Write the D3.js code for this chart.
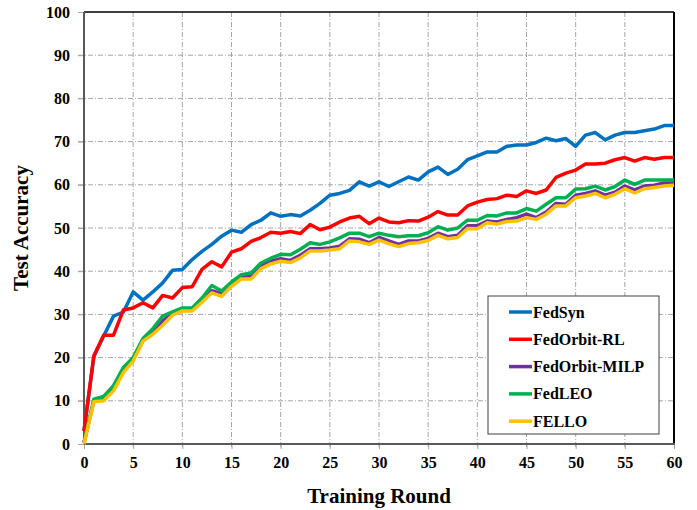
<!DOCTYPE html>
<html>
<head>
<meta charset="utf-8">
<script src="https://cdn.jsdelivr.net/npm/d3@7"></script>
<style>
  html, body { margin: 0; padding: 0; background: #ffffff; }
  svg { display: block; }
  text { font-family: "Liberation Serif", "Times New Roman", serif; font-weight: bold; fill: #000; }
</style>
</head>
<body>
<svg id="chart" width="697" height="510"></svg>
<script>
// Training rounds 0..60
const rounds = d3.range(0, 61);

const seriesNames = ["FedSyn", "FedOrbit-RL", "FedOrbit-MILP", "FedLEO", "FELLO"];
const seriesColors = ["#0070C0", "#FF0000", "#7030A0", "#00B050", "#FFC000"];

// Test accuracy per round
const fedSyn = [3.0, 20.2, 25.0, 29.6, 30.5, 35.2, 33.3, 35.2, 37.3, 40.2,
  40.4, 42.7, 44.6, 46.2, 48.1, 49.5, 49.0, 50.8, 51.8, 53.5,
  52.7, 53.1, 52.8, 54.1, 55.7, 57.6, 58.0, 58.7, 60.7, 59.7,
  60.7, 59.6, 60.7, 61.8, 61.1, 63.0, 64.1, 62.4, 63.6, 65.8,
  66.7, 67.6, 67.6, 68.9, 69.2, 69.2, 69.8, 70.8, 70.2, 70.7,
  68.9, 71.5, 72.1, 70.4, 71.5, 72.1, 72.1, 72.5, 72.9, 73.7, 73.7];

const fedOrbitRL = [3.0, 20.4, 25.2, 25.2, 31.0, 31.5, 32.7, 31.5, 34.4, 33.8,
  36.2, 36.4, 40.4, 42.2, 41.0, 44.4, 45.2, 46.9, 47.8, 49.0,
  48.8, 49.2, 48.7, 50.8, 49.6, 50.2, 51.4, 52.3, 52.7, 51.0,
  52.3, 51.4, 51.2, 51.7, 51.6, 52.5, 53.8, 53.0, 53.0, 55.1,
  56.0, 56.6, 56.8, 57.6, 57.3, 58.6, 58.0, 58.8, 61.7, 62.7,
  63.4, 64.8, 64.8, 65.0, 65.8, 66.3, 65.5, 66.3, 65.9, 66.3, 66.3];

const fedOrbitMILP = [0.3, 10.0, 10.5, 12.9, 17.1, 19.6, 24.1, 25.8, 28.5, 30.2,
  31.1, 31.1, 33.3, 35.5, 34.8, 37.0, 38.7, 38.9, 41.3, 42.3,
  42.9, 42.5, 43.7, 45.2, 45.2, 45.4, 45.8, 47.5, 47.4, 46.6,
  47.8, 47.0, 46.2, 47.0, 47.0, 47.6, 48.8, 48.0, 48.3, 50.5,
  50.5, 51.6, 51.4, 52.0, 52.4, 53.2, 52.4, 53.7, 55.7, 55.5,
  57.6, 58.0, 58.6, 57.6, 58.3, 59.7, 58.8, 59.7, 59.9, 60.4, 60.4];

const fedLEO = [0.3, 10.4, 11.0, 13.5, 17.7, 20.0, 24.4, 26.7, 29.6, 30.6,
  31.5, 31.5, 33.8, 36.7, 35.4, 37.5, 39.2, 39.6, 41.9, 43.0,
  43.9, 43.8, 45.1, 46.6, 46.2, 46.8, 47.7, 48.8, 48.8, 48.0,
  48.8, 48.3, 48.0, 48.2, 48.2, 48.9, 50.3, 49.5, 50.0, 51.8,
  51.8, 52.9, 52.8, 53.5, 53.5, 54.5, 53.9, 55.5, 57.0, 57.0,
  59.0, 59.1, 59.7, 58.8, 59.6, 61.1, 60.1, 61.1, 61.1, 61.1, 61.1];

const fello = [0.0, 9.8, 10.0, 12.3, 16.5, 19.2, 23.8, 25.4, 27.5, 29.8,
  30.8, 30.8, 32.8, 35.0, 34.2, 36.5, 38.2, 38.2, 40.6, 41.7,
  42.3, 42.0, 43.1, 44.7, 44.7, 44.9, 45.2, 47.0, 46.8, 46.2,
  47.2, 46.4, 45.7, 46.4, 46.6, 47.1, 48.3, 47.5, 47.8, 49.9,
  49.8, 51.2, 50.9, 51.5, 51.6, 52.4, 52.0, 53.2, 55.1, 55.1,
  57.0, 57.4, 58.0, 57.0, 57.8, 59.1, 58.1, 59.1, 59.4, 59.7, 59.9];

const seriesValues = [fedSyn, fedOrbitRL, fedOrbitMILP, fedLEO, fello];

const xTicks = d3.range(0, 61, 5);
const yTicks = d3.range(0, 101, 10);

const svg = d3.select("#chart");
const margin = { left: 84, right: 23, top: 12, bottom: 66 };
const W = 697, H = 510;
const plotW = W - margin.left - margin.right;
const plotH = H - margin.top - margin.bottom;

const x = d3.scaleLinear().domain([0, 60]).range([margin.left, margin.left + plotW]);
const y = d3.scaleLinear().domain([0, 100]).range([margin.top + plotH, margin.top]);

// Gridlines (dash-dot)
const grid = svg.append("g");
grid.selectAll("line.h").data(yTicks.filter(v => v > 0 && v < 100)).join("line")
  .attr("x1", x(0) - 6).attr("x2", x(60))
  .attr("y1", d => y(d)).attr("y2", d => y(d))
  .attr("stroke", "#a6a6a6").attr("stroke-width", 1)
  .attr("stroke-dasharray", "5,2,1,2");
grid.selectAll("line.v").data(xTicks.filter(v => v > 0 && v < 60)).join("line")
  .attr("x1", d => x(d)).attr("x2", d => x(d))
  .attr("y1", y(100)).attr("y2", y(0) + 5)
  .attr("stroke", "#a6a6a6").attr("stroke-width", 1)
  .attr("stroke-dasharray", "5,2,1,2");

// Axes
const xAxis = d3.axisBottom(x).tickValues(xTicks).tickSize(5).tickPadding(8);
const yAxis = d3.axisLeft(y).tickValues(yTicks).tickSize(6).tickPadding(8);

const gx = svg.append("g").attr("transform", `translate(0,${y(0)})`).call(xAxis);
const gy = svg.append("g").attr("transform", `translate(${x(0)},0)`).call(yAxis);
[gx, gy].forEach(g => {
  g.select(".domain").remove();
  g.selectAll(".tick line").attr("stroke", "#a6a6a6");
  g.selectAll(".tick text")
    .attr("font-family", "'Liberation Serif', 'Times New Roman', serif")
    .attr("font-weight", "bold").attr("font-size", 16).attr("fill", "#000");
});

// Plot frame: top and right in black, left and bottom axis lines in gray
svg.append("line").attr("x1", x(0)).attr("x2", x(60)).attr("y1", y(100)).attr("y2", y(100))
  .attr("stroke", "#000").attr("stroke-width", 1.5);
svg.append("line").attr("x1", x(60)).attr("x2", x(60)).attr("y1", y(100)).attr("y2", y(0))
  .attr("stroke", "#000").attr("stroke-width", 2);
svg.append("line").attr("x1", x(0)).attr("x2", x(0)).attr("y1", y(100)).attr("y2", y(0))
  .attr("stroke", "#595959").attr("stroke-width", 2);
svg.append("line").attr("x1", x(0)).attr("x2", x(60) + 1).attr("y1", y(0)).attr("y2", y(0))
  .attr("stroke", "#595959").attr("stroke-width", 2);

// Series lines
const line = d3.line().x((d, i) => x(rounds[i])).y(d => y(d));
svg.append("g").selectAll("path").data(seriesValues).join("path")
  .attr("d", d => line(d))
  .attr("fill", "none")
  .attr("stroke", (d, i) => seriesColors[i])
  .attr("stroke-width", 3.5)
  .attr("stroke-linejoin", "round");

// Axis titles
svg.append("text").attr("x", x(30)).attr("y", 503).attr("text-anchor", "middle")
  .attr("font-size", 21).text("Training Round");
svg.append("text").attr("transform", `translate(28,${y(50)}) rotate(-90)`)
  .attr("text-anchor", "middle").attr("font-size", 21).text("Test Accuracy");

// Legend
const lg = svg.append("g").attr("transform", "translate(488,296)");
lg.append("rect").attr("width", 171).attr("height", 138)
  .attr("fill", "#fff").attr("stroke", "#404040").attr("stroke-width", 1);
const rows = lg.selectAll("g.row").data(seriesNames).join("g")
  .attr("transform", (d, i) => `translate(0,${16 + i * 27.3})`);
rows.append("line").attr("x1", 21).attr("x2", 44).attr("y1", 0).attr("y2", 0)
  .attr("stroke", (d, i) => seriesColors[i]).attr("stroke-width", 3.5);
rows.append("text").attr("x", 45).attr("y", 5.5).attr("font-size", 16).text(d => d);
</script>
</body>
</html>
